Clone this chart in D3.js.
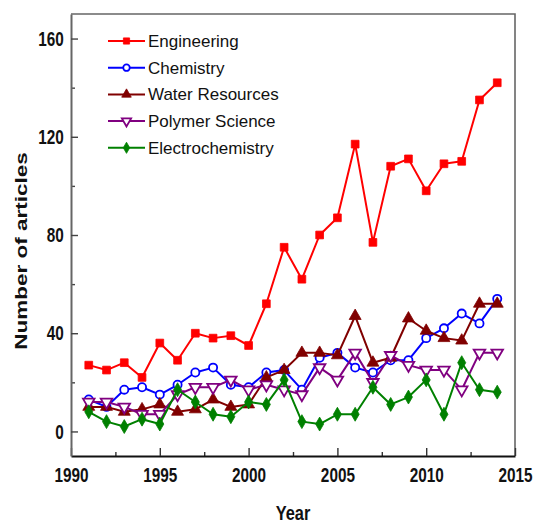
<!DOCTYPE html>
<html>
<head>
<meta charset="utf-8">
<script src="https://cdn.jsdelivr.net/npm/d3@7"></script>
<style>
  html, body { margin: 0; padding: 0; background: #fff; }
  svg { display: block; font-family: "Liberation Sans", Arial, sans-serif; }
</style>
</head>
<body>
<svg id="chart" width="533" height="523"></svg>
<script>
// Yearly article counts per subject area
const years = d3.range(1991, 2015);
const engineering = [27, 25, 28, 22, 36, 29, 40, 38, 39, 35, 52, 75, 62, 80, 87, 117, 77, 108, 111, 98, 109, 110, 135, 142];
const chemistry = [13, 10, 17, 18, 15, 19, 24, 26, 19, 18, 24, 25, 17, 30, 32, 26, 24, 29, 29, 38, 42, 48, 44, 54];
const waterResources = [10, 10, 8, 9, 11, 8, 9, 13, 10, 11, 22, 25, 32, 32, 31, 47, 28, 30, 46, 41, 38, 37, 52, 52];
const polymerScience = [12, 12, 10, 7, 7, 15, 18, 18, 21, 17, 19, 17, 15, 26, 21, 32, 20, 31, 27, 25, 25, 17, 32, 32];
const electrochemistry = [8, 4, 2, 5, 3, 17, 12, 7, 6, 12, 11, 21, 4, 3, 7, 7, 18, 11, 14, 21, 7, 28, 17, 16];

const seriesNames = ["Engineering", "Chemistry", "Water Resources", "Polymer Science", "Electrochemistry"];
const xTicks = [1990, 1995, 2000, 2005, 2010, 2015];
const yTicks = [0, 40, 80, 120, 160];

const series = [
  { name: seriesNames[0], values: engineering, color: "#ff0000", symbol: "square" },
  { name: seriesNames[1], values: chemistry, color: "#0000ff", symbol: "circle" },
  { name: seriesNames[2], values: waterResources, color: "#800000", symbol: "triangleUp" },
  { name: seriesNames[3], values: polymerScience, color: "#800080", symbol: "triangleDown" },
  { name: seriesNames[4], values: electrochemistry, color: "#008000", symbol: "diamond" }
];

const svg = d3.select("#chart");
const plotLeft = 71, plotRight = 515, plotTop = 14, plotBottom = 456;

const x = d3.scaleLinear().domain([1990, 2015]).range([plotLeft, plotRight]);
const y = d3.scaleLinear().domain([-10, 170]).range([plotBottom, plotTop]);

const squeeze = 0.73;

// frame (top and right)
svg.append("path")
  .attr("d", `M${plotLeft},${plotTop}H${plotRight}V${plotBottom}`)
  .attr("fill", "none")
  .attr("stroke", "#666")
  .attr("stroke-width", 1.6);

// x axis: inward ticks with half-step minor ticks
const xMinor = d3.range(1992.5, 2015, 5);
const gx = svg.append("g").attr("transform", `translate(0,${plotBottom})`);
gx.call(d3.axisBottom(x).tickValues(xMinor).tickSize(-4).tickFormat(""))
  .call(g => g.select(".domain").remove());
gx.append("g")
  .call(d3.axisBottom(x).tickValues(xTicks).tickSizeInner(-8).tickSizeOuter(0).tickPadding(11.5).tickFormat(d3.format("d")))
  .call(g => g.select(".domain").attr("stroke", "#111").attr("stroke-width", 2))
  .call(g => g.selectAll("text")
    .attr("fill", "#111")
    .attr("font-size", 21)
    .attr("font-weight", "bold")
    .attr("font-family", "Liberation Sans, Arial, sans-serif")
    .attr("transform", `scale(${squeeze},1)`));
gx.selectAll(".tick line").attr("stroke", "#333").attr("stroke-width", 1.4);

// y axis: inward ticks with minor ticks between labels
const yMinor = [20, 60, 100, 140];
const gy = svg.append("g").attr("transform", `translate(${plotLeft},0)`);
gy.call(d3.axisLeft(y).tickValues(yMinor).tickSize(-4).tickFormat(""))
  .call(g => g.select(".domain").remove());
gy.append("g")
  .call(d3.axisLeft(y).tickValues(yTicks).tickSizeInner(-7).tickSizeOuter(0).tickPadding(10).tickFormat(d3.format("d")))
  .call(g => g.select(".domain").attr("stroke", "#666").attr("stroke-width", 2))
  .call(g => g.selectAll("text")
    .attr("fill", "#111")
    .attr("font-size", 21)
    .attr("font-weight", "bold")
    .attr("font-family", "Liberation Sans, Arial, sans-serif")
    .attr("transform", `scale(${squeeze},1)`));
gy.selectAll(".tick line").attr("stroke", "#444").attr("stroke-width", 1.4);

// axis titles
svg.append("text")
  .attr("transform", `translate(27,251) scale(${squeeze},1) rotate(-90)`)
  .attr("text-anchor", "middle")
  .attr("font-size", 22.5)
  .attr("font-weight", "bold")
  .attr("fill", "#111")
  .text("Number of articles");

svg.append("text")
  .attr("transform", `translate(293,520) scale(0.78,1)`)
  .attr("text-anchor", "middle")
  .attr("font-size", 21)
  .attr("font-weight", "bold")
  .attr("fill", "#111")
  .text("Year");

// marker shapes
function marker(sel, s, scale) {
  const k = scale || 1;
  const open = s.symbol === "circle" || s.symbol === "triangleDown";
  let type, size;
  if (s.symbol === "square") { type = d3.symbolSquare; size = 60; }
  else if (s.symbol === "circle") { type = d3.symbolCircle; size = 52; }
  else if (s.symbol === "triangleUp") { type = d3.symbolTriangle; size = 62; }
  else if (s.symbol === "triangleDown") { type = d3.symbolTriangle; size = 58; }
  else { type = d3.symbolDiamond; size = 56; }
  sel.attr("d", d3.symbol().type(type).size(size * k * k)())
    .attr("fill", open ? "#fff" : s.color)
    .attr("stroke", s.color)
    .attr("stroke-width", open ? 1.8 : 0.8);
}

const line = d3.line().x((d, i) => x(years[i])).y(d => y(d));

series.forEach(s => {
  const g = svg.append("g").attr("class", "series");
  g.append("path")
    .attr("d", line(s.values))
    .attr("fill", "none")
    .attr("stroke", s.color)
    .attr("stroke-width", 2)
    .attr("stroke-linejoin", "round");
  g.selectAll("path.pt")
    .data(s.values)
    .join("path")
    .attr("class", "pt")
    .call(sel => marker(sel, s))
    .attr("transform", (d, i) => `translate(${x(years[i])},${y(d)})` + (s.symbol === "triangleDown" ? " rotate(180)" : ""));
});

// legend
const legend = svg.append("g");
series.forEach((s, i) => {
  const cy = 41 + i * 26.7;
  legend.append("line")
    .attr("x1", 108).attr("x2", 145)
    .attr("y1", cy).attr("y2", cy)
    .attr("stroke", s.color)
    .attr("stroke-width", 2);
  legend.append("path")
    .call(sel => marker(sel, s, 0.8))
    .attr("transform", `translate(126.5,${cy})` + (s.symbol === "triangleDown" ? " rotate(180)" : ""));
  legend.append("text")
    .attr("x", 148)
    .attr("y", cy + 6)
    .attr("font-size", 17)
    .attr("fill", "#111")
    .text(s.name);
});
</script>
</body>
</html>
